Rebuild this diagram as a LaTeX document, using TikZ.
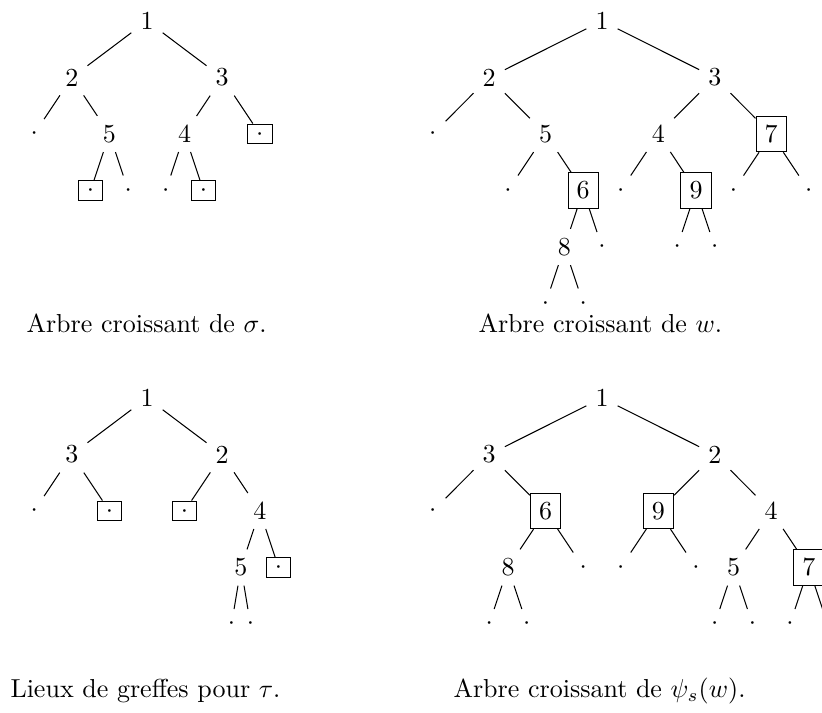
\documentclass[tikz,border=0pt]{standalone}
\usepackage{amsmath,amssymb}
\usepackage{tikz}
\usetikzlibrary{positioning}

\tikzstyle{vertex} = [inner sep=3.33pt]
\tikzstyle{graft} = [rectangle, draw, inner sep=3.33pt]
\tikzstyle{dotgraft} = [graft, text height=1pt, text depth=0pt]
\tikzstyle{caption} = [anchor=base west, inner sep=0pt]
\tikzstyle{treegrid} = [x=7.23pt, y=-21.73pt]

\newcommand{\leafdot}{$\cdot$}
\newcommand{\graftdot}{\raisebox{-2pt}{$\cdot$}}

\begin{document}
\begin{tikzpicture}[x=0.3846pt, y=-0.3846pt]
    \useasboundingbox (0,0) rectangle (822,713);

    % Arbre croissant de sigma
    \begin{scope}[shift={(147,21)}, treegrid]
        \foreach \n/\x/\y/\t in {s1/0/0/1, s2/-4/1/2, s3/4/1/3, s5/-2/2/5, s4/2/2/4,
                                 sa/-6/2/\leafdot, sc/-1/3/\leafdot, sd/1/3/\leafdot}
            \node[vertex] (\n) at (\x,\y) {\t};
        \foreach \n/\x/\y in {sb/6/2, se/-3/3, sf/3/3}
            \node[dotgraft] (\n) at (\x,\y) {\graftdot};
        \foreach \a/\b in {s1/s2, s1/s3, s2/sa, s2/s5, s3/s4, s3/sb, s5/se, s5/sc, s4/sd, s4/sf}
            \draw (\a) -- (\b);
    \end{scope}
    \node[caption] (capsigma) at (26,333) {Arbre croissant de $\sigma$.};

    % Arbre croissant de w
    \begin{scope}[shift={(602,21)}, treegrid]
        \foreach \n/\x/\y/\t in {w1/0/0/1, w2/-6/1/2, w3/6/1/3, w5/-3/2/5, w4/3/2/4, w8/-2/4/8,
                                 wa/-9/2/\leafdot, wb/-5/3/\leafdot, wc/1/3/\leafdot, wd/7/3/\leafdot,
                                 we/11/3/\leafdot, wf/0/4/\leafdot, wg/4/4/\leafdot, wh/6/4/\leafdot,
                                 wi/-3/5/\leafdot, wj/-1/5/\leafdot}
            \node[vertex] (\n) at (\x,\y) {\t};
        \foreach \n/\x/\y/\t in {w7/9/2/7, w6/-1/3/6, w9/5/3/9}
            \node[graft] (\n) at (\x,\y) {\t};
        \foreach \a/\b in {w1/w2, w1/w3, w2/wa, w2/w5, w3/w4, w3/w7, w5/wb, w5/w6, w4/wc, w4/w9,
                           w7/wd, w7/we, w6/w8, w6/wf, w9/wg, w9/wh, w8/wi, w8/wj}
            \draw (\a) -- (\b);
    \end{scope}
    \node[caption] (capw) at (478,333) {Arbre croissant de $w$.};

    % Lieux de greffes pour tau
    \begin{scope}[shift={(147,398)}, treegrid]
        \foreach \n/\x/\y/\t in {t1/0/0/1, t3/-4/1/3, t2/4/1/2, t4/6/2/4, t5/5/3/5,
                                 ta/-6/2/\leafdot, tc/4.5/4/\leafdot, td/5.5/4/\leafdot}
            \node[vertex] (\n) at (\x,\y) {\t};
        \foreach \n/\x/\y in {tb/-2/2, te/2/2, tf/7/3}
            \node[dotgraft] (\n) at (\x,\y) {\graftdot};
        \foreach \a/\b in {t1/t3, t1/t2, t3/ta, t3/tb, t2/te, t2/t4, t4/t5, t4/tf, t5/tc, t5/td}
            \draw (\a) -- (\b);
    \end{scope}
    \node[caption] (captau) at (10,698) {Lieux de greffes pour $\tau$.};

    % Arbre croissant de psi_s(w)
    \begin{scope}[shift={(602,398)}, treegrid]
        \foreach \n/\x/\y/\t in {p1/0/0/1, p3/-6/1/3, p2/6/1/2, p4/9/2/4, p8/-5/3/8, p5/7/3/5,
                                 pa/-9/2/\leafdot, pb/-1/3/\leafdot, pc/1/3/\leafdot, pd/5/3/\leafdot,
                                 pe/-6/4/\leafdot, pf/-4/4/\leafdot, pg/6/4/\leafdot, ph/8/4/\leafdot,
                                 pi/10/4/\leafdot, pj/12/4/\leafdot}
            \node[vertex] (\n) at (\x,\y) {\t};
        \foreach \n/\x/\y/\t in {p6/-3/2/6, p9/3/2/9, p7/11/3/7}
            \node[graft] (\n) at (\x,\y) {\t};
        \foreach \a/\b in {p1/p3, p1/p2, p3/pa, p3/p6, p2/p9, p2/p4, p6/p8, p6/pb, p9/pc, p9/pd,
                           p4/p5, p4/p7, p8/pe, p8/pf, p5/pg, p5/ph, p7/pi, p7/pj}
            \draw (\a) -- (\b);
    \end{scope}
    \node[caption] (cappsi) at (453,698) {Arbre croissant de $\psi_s(w)$.};
\end{tikzpicture}
\end{document}
